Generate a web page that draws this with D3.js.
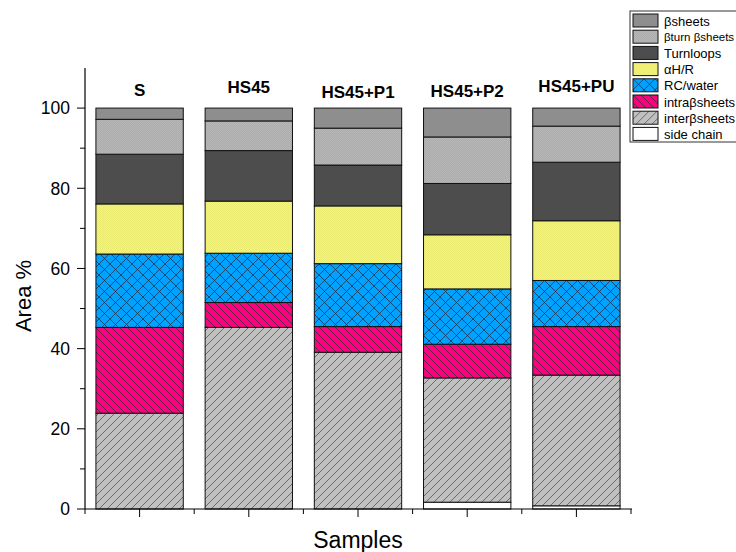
<!DOCTYPE html>
<html>
<head>
<meta charset="utf-8">
<script src="https://cdn.jsdelivr.net/npm/d3@7"></script>
<style>
  body { margin: 0; background: #fff; }
  svg { font-family: Arial, "Liberation Sans", sans-serif; }
</style>
</head>
<body>
<div id="chart"></div>
<script>
// categorie e serie (dal basso verso l'alto)
const samples = ["S", "HS45", "HS45+P1", "HS45+P2", "HS45+PU"];
const seriesNames = ["side chain", "interβsheets", "intraβsheets", "RC/water", "αH/R", "Turnloops", "βturn βsheets", "βsheets"];

const sideChain   = [0,    0,    0,    1.7,  0.8];
const interSheets = [23.9, 45.3, 39.1, 31.0, 32.6];
const intraSheets = [21.4, 6.2,  6.4,  8.4,  12.1];
const rcWater     = [18.3, 12.3, 15.7, 13.8, 11.5];
const alphaHR     = [12.5, 13.0, 14.4, 13.5, 14.9];
const turnLoops   = [12.4, 12.6, 10.2, 12.8, 14.6];
const betaTurn    = [8.7,  7.4,  9.2,  11.6, 9.0];
const betaSheets  = [2.8,  3.2,  5.0,  7.2,  4.5];

const yTicks = [0, 20, 40, 60, 80, 100];

const seriesValues = [sideChain, interSheets, intraSheets, rcWater, alphaHR, turnLoops, betaTurn, betaSheets];

const rows = samples.map((s, i) => {
  const r = { sample: s };
  seriesNames.forEach((n, k) => r[n] = seriesValues[k][i]);
  return r;
});

const W = 736, H = 552;
const svg = d3.select("#chart").append("svg").attr("width", W).attr("height", H);
const defs = svg.append("defs");

// pattern per i riempimenti
function hatch(id, bg, kind, step, lineColor) {
  const p = defs.append("pattern").attr("id", id)
    .attr("patternUnits", "userSpaceOnUse")
    .attr("width", step).attr("height", step);
  p.append("rect").attr("width", step).attr("height", step).attr("fill", bg);
  if (kind === "fwd" || kind === "cross") {
    p.append("path").attr("d", `M0,${step} L${step},0 M${-step/2},${step/2} L${step/2},${-step/2} M${step/2},${step*1.5} L${step*1.5},${step/2}`)
      .attr("stroke", lineColor).attr("stroke-width", 0.8);
  }
  if (kind === "back" || kind === "cross") {
    p.append("path").attr("d", `M0,0 L${step},${step} M${-step/2},${step/2} L${step/2},${step*1.5} M${step/2},${-step/2} L${step*1.5},${step/2}`)
      .attr("stroke", lineColor).attr("stroke-width", 0.8);
  }
  if (kind === "vert") {
    p.append("path").attr("d", `M1,0 L1,${step}`).attr("stroke", lineColor).attr("stroke-width", 1);
  }
  if (kind === "dots") {
    p.append("rect").attr("x", 0).attr("y", 0).attr("width", 1).attr("height", 1).attr("fill", lineColor);
    p.append("rect").attr("x", 1).attr("y", 1).attr("width", 1).attr("height", 1).attr("fill", lineColor);
  }
  return `url(#${id})`;
}

const fills = {
  "side chain": "#ffffff",
  "interβsheets": hatch("p-inter", "#c0c0c0", "fwd", 8, "#555"),
  "intraβsheets": hatch("p-intra", "#ff0080", "back", 8, "#333"),
  "RC/water": hatch("p-rc", "#00a2ff", "cross", 11, "#1a3550"),
  "αH/R": hatch("p-ah", "#f5f57a", "dots", 2, "#eaea70"),
  "Turnloops": "#4d4d4d",
  "βturn βsheets": hatch("p-bt", "#ababab", "dots", 2, "#b8b8b8"),
  "βsheets": hatch("p-bs", "#959595", "vert", 2, "#888")
};

const x = d3.scaleBand().domain(samples).range([85, 631]).paddingInner(0.2).paddingOuter(0.1);
const y = d3.scaleLinear().domain([0, 110]).range([509, 68]);

const stack = d3.stack().keys(seriesNames)(rows);

svg.append("g").selectAll("g")
  .data(stack)
  .join("g")
  .attr("fill", d => fills[d.key])
  .selectAll("rect")
  .data(d => d)
  .join("rect")
  .attr("x", d => x(d.data.sample))
  .attr("width", x.bandwidth())
  .attr("y", d => y(d[1]))
  .attr("height", d => Math.max(0, y(d[0]) - y(d[1])))
  .attr("stroke", "#111")
  .attr("stroke-width", 1);

// etichette sopra le barre
const labelDy = [0, -3, 2, 1, -4];
svg.append("g").selectAll("text")
  .data(samples)
  .join("text")
  .attr("x", d => x(d) + x.bandwidth() / 2)
  .attr("y", (d, i) => 96 + labelDy[i])
  .attr("text-anchor", "middle")
  .attr("font-weight", "bold")
  .attr("font-size", 17)
  .text(d => d);

// asse y
const yAxis = svg.append("g").attr("transform", "translate(85,0)");
yAxis.append("line").attr("x1", 0).attr("x2", 0).attr("y1", y(0)).attr("y2", y(110)).attr("stroke", "#000").attr("stroke-width", 1.2);
yAxis.selectAll(".maj").data(yTicks).join("line")
  .attr("x1", -8).attr("x2", 0).attr("y1", d => y(d)).attr("y2", d => y(d)).attr("stroke", "#000");
yAxis.selectAll(".min").data(d3.range(10, 110, 20)).join("line")
  .attr("x1", -5).attr("x2", 0).attr("y1", d => y(d)).attr("y2", d => y(d)).attr("stroke", "#000");
yAxis.selectAll("text").data(yTicks).join("text")
  .attr("x", -15).attr("y", d => y(d)).attr("dy", "0.36em")
  .attr("text-anchor", "end").attr("font-size", 17.5).text(d => d);

// asse x
const xAxis = svg.append("g");
xAxis.append("line").attr("x1", 85).attr("x2", 632).attr("y1", 509).attr("y2", 509).attr("stroke", "#000").attr("stroke-width", 1.2);
xAxis.selectAll(".maj").data(samples).join("line")
  .attr("x1", d => x(d) + x.bandwidth() / 2).attr("x2", d => x(d) + x.bandwidth() / 2)
  .attr("y1", 509).attr("y2", 517).attr("stroke", "#000");
xAxis.selectAll(".min").data(d3.range(samples.length + 1)).join("line")
  .attr("x1", i => 85 + i * x.step()).attr("x2", i => 85 + i * x.step())
  .attr("y1", 509).attr("y2", 514).attr("stroke", "#000");

svg.append("text").attr("x", 358).attr("y", 548).attr("text-anchor", "middle")
  .attr("font-size", 23).text("Samples");
svg.append("text").attr("transform", "translate(31,296) rotate(-90)").attr("text-anchor", "middle")
  .attr("font-size", 22).text("Area %");

// legenda
const legend = svg.append("g").attr("transform", "translate(630,11)");
legend.append("rect").attr("width", 120).attr("height", 131).attr("fill", "#fff").attr("stroke", "#333").attr("stroke-width", 1);
const legendItems = seriesNames.slice().reverse();
const li = legend.selectAll("g").data(legendItems).join("g")
  .attr("transform", (d, i) => `translate(3,${3 + i * 16.2})`);
li.append("rect").attr("width", 25).attr("height", 13).attr("fill", d => fills[d]).attr("stroke", "#111");
// la voce più lunga è un po' più piccola per restare nella finestra
li.append("text").attr("x", 31).attr("y", 7).attr("dy", "0.36em")
  .attr("font-size", d => d.length > 12 ? 11.5 : 13)
  .text(d => d);
</script>
</body>
</html>
